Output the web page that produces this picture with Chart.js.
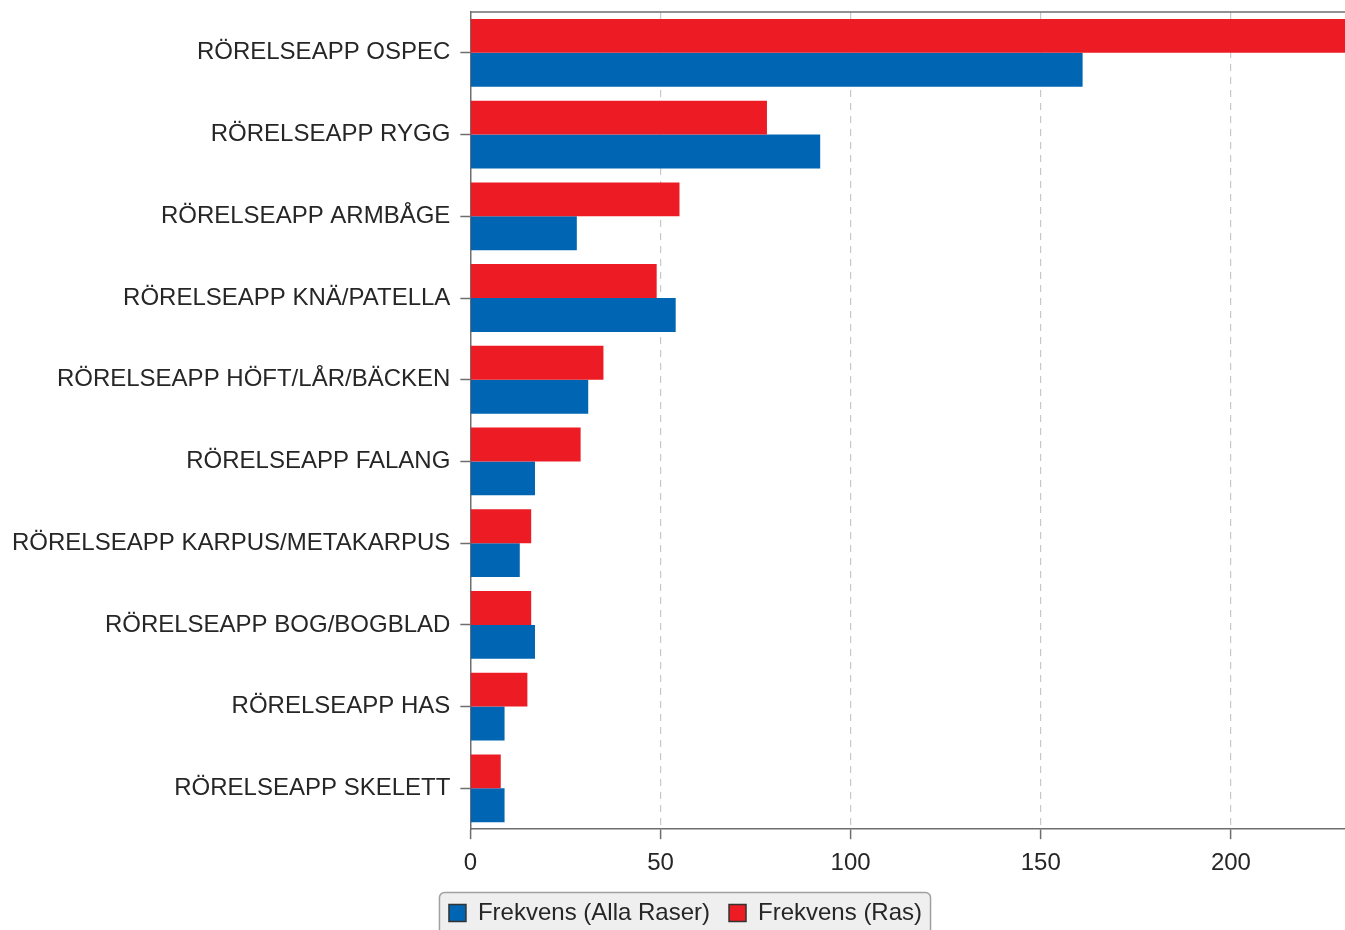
<!DOCTYPE html>
<html><head><meta charset="utf-8">
<script src="https://cdn.jsdelivr.net/npm/chart.js@4"></script>
<style>html,body{margin:0;padding:0;background:#fff;}canvas{display:block;}</style>
</head><body>
<canvas id="c" width="1345" height="930"></canvas>
<script>
const categories = [
  "RÖRELSEAPP OSPEC",
  "RÖRELSEAPP RYGG",
  "RÖRELSEAPP ARMBÅGE",
  "RÖRELSEAPP KNÄ/PATELLA",
  "RÖRELSEAPP HÖFT/LÅR/BÄCKEN",
  "RÖRELSEAPP FALANG",
  "RÖRELSEAPP KARPUS/METAKARPUS",
  "RÖRELSEAPP BOG/BOGBLAD",
  "RÖRELSEAPP HAS",
  "RÖRELSEAPP SKELETT"
];
const rasValues   = [230, 78, 55, 49, 35, 29, 16, 16, 15, 8];
const allaValues  = [161, 92, 28, 54, 31, 17, 13, 17, 9, 9];
const seriesNames = ["Frekvens (Ras)", "Frekvens (Alla Raser)"];
const xTickValues = [0, 50, 100, 150, 200];
const xMax = 230;

const FONT = "'Liberation Sans', Arial, sans-serif";
const TEXT = '#262626';
const AXIS = '#6e6e6e';

const frame = {
  id: 'frame',
  afterLayout(chart) {
    const lg = chart.legend;
    if (lg) { lg.left += 12; lg.right += 12; }
  },
  beforeDraw(chart) {
    const ctx = chart.ctx, lg = chart.legend;
    if (lg && lg.legendHitBoxes && lg.legendHitBoxes.length) {
      const hb = lg.legendHitBoxes;
      let x0 = Math.min(...hb.map(b => b.left)) - 10;
      let x1 = Math.max(...hb.map(b => b.left + b.width)) + 8;
      let y0 = Math.min(...hb.map(b => b.top)) - 9;
      let y1 = Math.max(...hb.map(b => b.top + b.height)) + 9;
      ctx.save();
      ctx.beginPath();
      ctx.roundRect(x0 + 0.5, y0 + 0.5, x1 - x0, y1 - y0, 5);
      ctx.fillStyle = '#efefef';
      ctx.fill();
      ctx.strokeStyle = '#a0a0a0';
      ctx.lineWidth = 1.5;
      ctx.stroke();
      ctx.restore();
    }
  },
  afterDraw(chart) {
    const ctx = chart.ctx, a = chart.chartArea;
    ctx.save();
    ctx.strokeStyle = AXIS;
    ctx.lineWidth = 1.5;
    ctx.beginPath();
    ctx.moveTo(a.left, a.top);
    ctx.lineTo(a.right, a.top);
    ctx.stroke();
    ctx.restore();
  }
};

new Chart(document.getElementById('c'), {
  type: 'bar',
  data: {
    labels: categories,
    datasets: [
      { label: seriesNames[0], data: rasValues, backgroundColor: '#ED1C24', borderWidth: 0 },
      { label: seriesNames[1], data: allaValues, backgroundColor: '#0066B3', borderWidth: 0 }
    ]
  },
  options: {
    indexAxis: 'y',
    responsive: false,
    animation: false,
    devicePixelRatio: 1,
    layout: { padding: { top: 12, left: 2, right: 0, bottom: -5 } },
    datasets: { bar: { categoryPercentage: 0.83, barPercentage: 1.0 } },
    scales: {
      x: {
        min: 0, max: xMax,
        afterBuildTicks(scale) { scale.ticks = xTickValues.map(v => ({ value: v })); },
        afterFit(scale) { scale.height -= 6; scale.paddingLeft = 0; scale.paddingRight = 0; },
        ticks: { color: TEXT, font: { family: FONT, size: 24 }, padding: 10 },
        grid: {
          color: ctx => (ctx.tick && ctx.tick.value === 0) ? 'rgba(0,0,0,0)' : '#c8c8c8',
          lineWidth: 1.2,
          drawTicks: true, tickLength: 10, tickColor: AXIS, tickWidth: 1.5
        },
        border: { display: true, color: AXIS, width: 1.5, dash: [7, 6] }
      },
      y: {
        afterFit(scale) { scale.paddingTop = 0; scale.paddingBottom = 0; },
        ticks: { color: TEXT, font: { family: FONT, size: 24 }, padding: 10 },
        grid: { offset: false, drawOnChartArea: false, drawTicks: true, tickLength: 10, color: AXIS, tickColor: AXIS, tickWidth: 1.5 },
        border: { display: true, color: AXIS, width: 1.5 }
      }
    },
    plugins: {
      legend: {
        position: 'bottom',
        reverse: true,
        labels: {
          color: TEXT, font: { family: FONT, size: 24 },
          boxWidth: 17, boxHeight: 17, padding: 19,
          generateLabels(chart) {
            return chart.data.datasets.map((ds, i) => ({
              text: ds.label, fillStyle: ds.backgroundColor, strokeStyle: '#333',
              lineWidth: 1.5, hidden: false, datasetIndex: i, fontColor: TEXT
            }));
          }
        }
      },
      tooltip: { enabled: false }
    }
  },
  plugins: [frame]
});
</script>
</body></html>
